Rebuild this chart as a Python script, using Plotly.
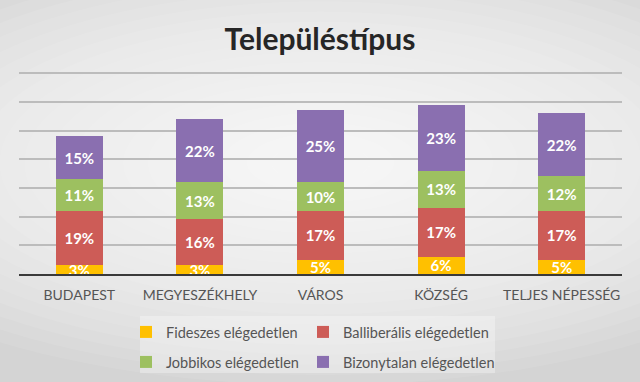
import plotly.graph_objects as go

categories = ["BUDAPEST", "MEGYESZÉKHELY", "VÁROS", "KÖZSÉG", "TELJES NÉPESSÉG"]
series_names = ["Fideszes elégedetlen", "Balliberális elégedetlen",
                "Jobbikos elégedetlen", "Bizonytalan elégedetlen"]
fideszes = [3, 3, 5, 6, 5]
balliberalis = [19, 16, 17, 17, 17]
jobbikos = [11, 13, 10, 13, 12]
bizonytalan = [15, 22, 25, 23, 22]
colors = ["#FFC000", "#CD5C57", "#9DC060", "#8A6FB0"]
legend_ids = ["legend", "legend2", "legend3", "legend4"]

font_family = "Lato, 'Open Sans', sans-serif"

fig = go.Figure()
for name, vals, col, lg in zip(series_names, [fideszes, balliberalis, jobbikos, bizonytalan], colors, legend_ids):
    fig.add_trace(go.Bar(
        x=categories, y=vals, name=name,
        marker=dict(color=col, line=dict(width=0)),
        text=[f"{v}%" for v in vals],
        textposition="inside", insidetextanchor="middle",
        constraintext="none",
        textfont=dict(color="white", size=15, family=font_family, weight="bold"),
        legend=lg, hoverinfo="skip",
    ))

# background: soft radial gradient approximation
shapes = [dict(type="rect", xref="paper", yref="paper", x0=-1, x1=2, y0=-1, y1=2,
               fillcolor="#d4d4d4", line=dict(width=0), layer="below")]
n = 22
for i in range(n):
    f = 1 - i / n
    shapes.append(dict(type="circle", xref="paper", yref="paper",
                       x0=0.5 - 0.9 * f, x1=0.5 + 0.9 * f,
                       y0=0.55 - 1.1 * f, y1=0.55 + 1.1 * f,
                       fillcolor="rgba(255,255,255,0.085)", line=dict(width=0), layer="below"))
# legend backdrop
shapes.append(dict(type="rect", xref="paper", yref="paper",
                   x0=(140 - 19) / 603, x1=(495 - 19) / 603,
                   y0=-(373 - 274) / 202, y1=-(316 - 274) / 202,
                   fillcolor="rgba(255,255,255,0.3)", line=dict(width=0), layer="below"))

legend_common = dict(orientation="h", xref="container", yref="container", xanchor="left",
                     yanchor="top", bgcolor="rgba(0,0,0,0)", itemwidth=30,
                     font=dict(size=14.5, color="#555555", family=font_family))

col_x = [126, 303, 126, 303]
row_y = [316, 316, 346, 346]

layout_legends = {}
for lg, cx, ry in zip(legend_ids, col_x, row_y):
    layout_legends[lg] = dict(legend_common, x=cx / 640, y=1 - ry / 382)

fig.update_layout(
    width=640, height=382,
    margin=dict(l=19, r=18, t=72, b=108, autoexpand=False),
    paper_bgcolor="rgba(0,0,0,0)",
    plot_bgcolor="rgba(0,0,0,0)",
    barmode="stack", bargap=0.61,
    title=dict(text="<b>Településtípus</b>", x=0.5, xanchor="center",
               y=1 - 39 / 382, yanchor="middle",
               font=dict(size=30, color="#262626", family=font_family)),
    xaxis=dict(showgrid=False, showline=True, linecolor="#3a3a3a", linewidth=2,
               ticks="", ticklabelstandoff=7,
               tickfont=dict(size=14, color="#555555", family=font_family)),
    yaxis=dict(range=[0, 70.4], dtick=10, showticklabels=False, showgrid=True,
               gridcolor="#bcbcbc", gridwidth=1.5, zeroline=False),
    shapes=shapes,
    showlegend=True,
    **layout_legends,
)

fig.write_html("out.html", config={"displayModeBar": False},
               post_script="document.body.style.margin='0';document.body.style.overflow='hidden';")
